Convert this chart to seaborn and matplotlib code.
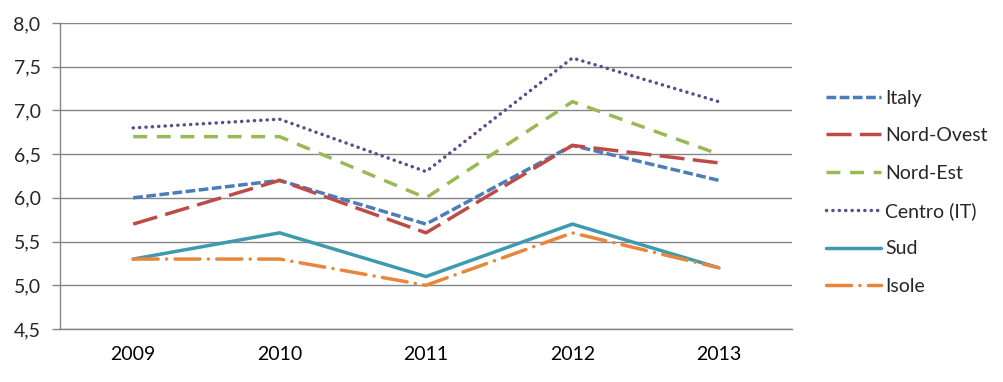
import matplotlib
matplotlib.use("Agg")
import matplotlib.pyplot as plt
import seaborn as sns
import pandas as pd
from matplotlib.ticker import FixedLocator, FuncFormatter

years = [2009, 2010, 2011, 2012, 2013]
series_names = ["Italy", "Nord-Ovest", "Nord-Est", "Centro (IT)", "Sud", "Isole"]
italy = [6.0, 6.2, 5.7, 6.6, 6.2]
nord_ovest = [5.7, 6.2, 5.6, 6.6, 6.4]
nord_est = [6.7, 6.7, 6.0, 7.1, 6.5]
centro = [6.8, 6.9, 6.3, 7.6, 7.1]
sud = [5.3, 5.6, 5.1, 5.7, 5.2]
isole = [5.3, 5.3, 5.0, 5.6, 5.2]
y_ticks = [4.5, 5.0, 5.5, 6.0, 6.5, 7.0, 7.5, 8.0]

values = [italy, nord_ovest, nord_est, centro, sud, isole]
rows = []
for name, vals in zip(series_names, values):
    for yr, v in zip(years, vals):
        rows.append({"year": yr, "value": v, "series": name})
df = pd.DataFrame(rows)

colors = {"Italy": "#4A7EBB", "Nord-Ovest": "#BE4B48", "Nord-Est": "#98B954",
          "Centro (IT)": "#5F4A8B", "Sud": "#3E9AB0", "Isole": "#E8873B"}
# dash patterns in points
dash_pts = {"Italy": (7, 2.5), "Nord-Ovest": (18, 6), "Nord-Est": (10, 7),
            "Centro (IT)": (0.1, 4.5), "Sud": None, "Isole": (18, 6, 0.1, 6)}

sns.set_theme(style="white")
plt.rcParams['font.family'] = ['Lato', 'DejaVu Sans']
plt.rcParams['lines.scale_dashes'] = False

fig = plt.figure(figsize=(10.04, 3.82), dpi=100)
ax = fig.add_axes([60/1004, 53/382, 732/1004, 306/382])

LW = 2.5
sns.lineplot(data=df, x="year", y="value", hue="series",
             palette=colors, hue_order=series_names, linewidth=LW, ax=ax, legend=True)

def style_line(line, name):
    d = dash_pts[name]
    line.set_linewidth(LW)
    if d is None:
        line.set_linestyle("-")
    else:
        line.set_dashes(d)
    line.set_dash_capstyle("round" if name in ("Centro (IT)", "Isole") else "butt")
    line.set_solid_capstyle("round")
    line.set_solid_joinstyle("round")
    line.set_dash_joinstyle("round")

for line, name in zip(ax.get_lines()[:len(series_names)], series_names):
    style_line(line, name)

ax.set_xlim(2008.5, 2013.5)
ax.set_ylim(4.5, 8.0)
ax.set_yticks(y_ticks)
ax.yaxis.set_major_formatter(FuncFormatter(lambda v, p: f"{v:.1f}".replace(".", ",")))
ax.set_xticks(years)
ax.set_xticklabels([str(y) for y in years])
ax.xaxis.set_minor_locator(FixedLocator([2008.5 + i for i in range(6)]))
ax.tick_params(axis="x", which="major", length=0, pad=12, labelsize=14, colors="#000000")
ax.tick_params(axis="x", which="minor", length=6, width=1, color="#868686", direction="out")
ax.tick_params(axis="y", which="major", length=6, width=1, color="#868686", direction="out",
               labelsize=14, pad=8, left=True)
ax.grid(True, axis="y", color="#868686", linewidth=1)
ax.set_axisbelow(True)
for s in ["top", "right"]:
    ax.spines[s].set_visible(False)
for s in ["left", "bottom"]:
    ax.spines[s].set_color("#868686")
    ax.spines[s].set_linewidth(1)
ax.set_xlabel("")
ax.set_ylabel("")

handles, labels = ax.get_legend_handles_labels()
leg = ax.legend(handles, labels, loc="upper left", bbox_to_anchor=(818/1004, 1 - 82/382),
                bbox_transform=fig.transFigure, frameon=False, fontsize=14,
                handlelength=2.85, labelspacing=1.05, handletextpad=0.2, borderaxespad=0)
for h, name in zip(leg.get_lines(), series_names):
    style_line(h, name)

fig.savefig("out.png", dpi=100)
